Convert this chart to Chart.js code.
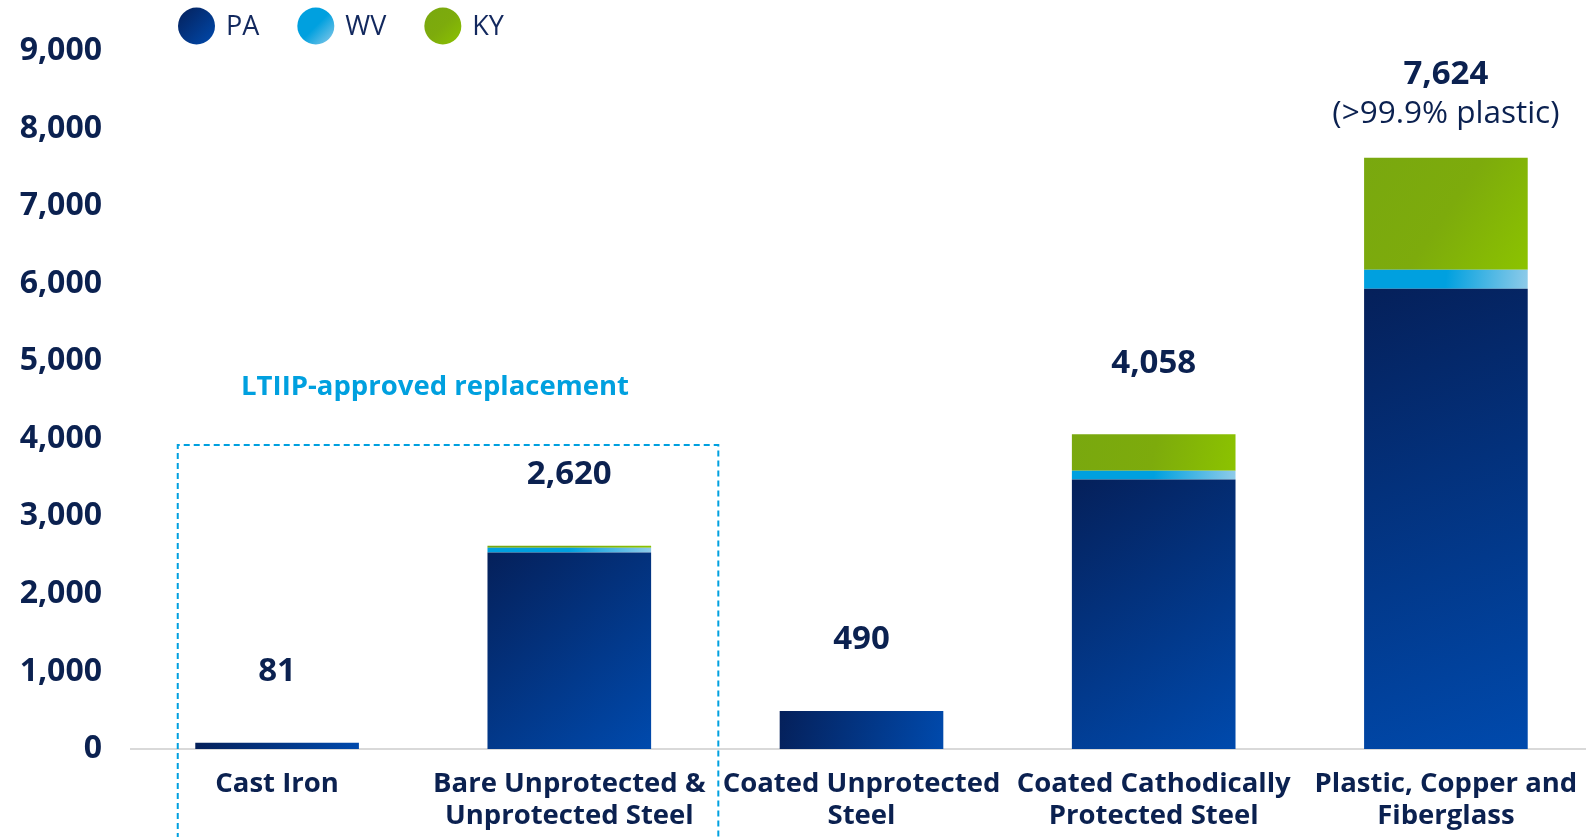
<!DOCTYPE html>
<html>
<head>
<meta charset="utf-8">
<script src="https://cdn.jsdelivr.net/npm/chart.js@4.4.0/dist/chart.umd.min.js"></script>
<style>
  body { margin: 0; background: #fff; }
  .wrap { position: relative; width: 1586px; height: 837px; overflow: hidden; }
  .wrap canvas { display: block; }
</style>
</head>
<body>
<div class="wrap"><canvas id="chart" width="1592" height="837"></canvas></div>
<script>
var categories = [
  ["Cast Iron"],
  ["Bare Unprotected &", "Unprotected Steel"],
  ["Coated Unprotected", "Steel"],
  ["Coated Cathodically", "Protected Steel"],
  ["Plastic, Copper and", "Fiberglass"]
];
var states = ["PA", "WV", "KY"];
var paMiles = [81, 2535, 490, 3475, 5935];
var wvMiles = [0, 60, 0, 112, 245];
var kyMiles = [0, 25, 0, 471, 1444];
var totalNotes = ["", "", "", "", "(>99.9% plastic)"];
var yTicks = [0, 1000, 2000, 3000, 4000, 5000, 6000, 7000, 8000, 9000];
var ltiipLabel = "LTIIP-approved replacement";
var ltiipCategories = [0, 1];
var ltiipTop = 3920;

var navy = "#0b2150";
var font = "'Open Sans', sans-serif";
var barShare = 0.56;

var paStops = [[0, "#05205a"], [1, "#004aad"]];
var wvStops = [[0, "#00a0df"], [0.5, "#00a0df"], [1, "#8fcbe9"]];
var kyStops = [[0, "#79a80f"], [0.5, "#7dab0c"], [1, "#8cc300"]];

function fillFor(stops) {
  return function (ctx) {
    var chart = ctx.chart;
    if (!chart.chartArea || ctx.type !== "data") return stops[0][1];
    var x = chart.scales.x, y = chart.scales.y;
    var half = (x.width / categories.length) * barShare / 2;
    var cx = x.getPixelForValue(ctx.dataIndex);
    var below = 0;
    for (var d = 0; d < ctx.datasetIndex; d++) below += chart.data.datasets[d].data[ctx.dataIndex];
    var top = y.getPixelForValue(below + ctx.raw);
    var bottom = y.getPixelForValue(below);
    var g = chart.ctx.createLinearGradient(cx - half, top, cx + half, bottom);
    stops.forEach(function (s) { g.addColorStop(s[0], s[1]); });
    return g;
  };
}

function totalFor(i) {
  return paMiles[i] + wvMiles[i] + kyMiles[i];
}

// legend, totals above bars and the dashed LTIIP box
var extras = {
  id: "extras",
  afterDraw: function (chart) {
    var c = chart.ctx, x = chart.scales.x, y = chart.scales.y;

    // legend
    var lx = 178, ly = 26, r = 18.5;
    var legendStops = [paStops, wvStops, kyStops];
    c.save();
    c.font = "400 27px " + font;
    c.textBaseline = "middle";
    states.forEach(function (s, i) {
      var g = c.createLinearGradient(lx, ly - r, lx + 2 * r, ly + r);
      legendStops[i].forEach(function (st) { g.addColorStop(st[0], st[1]); });
      c.fillStyle = g;
      c.beginPath();
      c.arc(lx + r, ly, r, 0, Math.PI * 2);
      c.fill();
      c.fillStyle = "#12285e";
      c.textAlign = "left";
      c.fillText(s, lx + 2 * r + 11, ly + 1);
      lx += 2 * r + 11 + c.measureText(s).width + 38;
    });

    // totals
    c.textAlign = "center";
    c.fillStyle = navy;
    categories.forEach(function (cat, i) {
      var cx = x.getPixelForValue(i);
      var top = y.getPixelForValue(totalFor(i));
      c.font = "700 33px " + font;
      c.fillText(totalFor(i).toLocaleString("en-US"), cx, totalNotes[i] ? top - 83 : top - 71);
      if (totalNotes[i]) {
        c.font = "400 31.5px " + font;
        c.fillText(totalNotes[i], cx, top - 44);
      }
    });

    // dashed box
    var step = x.getPixelForValue(1) - x.getPixelForValue(0);
    var left = x.getPixelForValue(ltiipCategories[0]) - step * 0.34;
    var right = x.getPixelForValue(ltiipCategories[1]) + step * 0.51;
    var boxTop = y.getPixelForValue(ltiipTop);
    c.strokeStyle = "#00a0df";
    c.lineWidth = 2;
    c.setLineDash([6, 4]);
    c.beginPath();
    c.moveTo(left, chart.height + 2);
    c.lineTo(left, boxTop);
    c.lineTo(right, boxTop);
    c.lineTo(right, chart.height + 2);
    c.stroke();
    c.setLineDash([]);
    c.fillStyle = "#00a0df";
    c.font = "700 27.5px " + font;
    c.fillText(ltiipLabel, (left + right) / 2 - 13, boxTop - 58);
    c.restore();
  }
};

new Chart("chart", {
  type: "bar",
  data: {
    labels: categories,
    datasets: [
      { label: states[0], data: paMiles, backgroundColor: fillFor(paStops) },
      { label: states[1], data: wvMiles, backgroundColor: fillFor(wvStops) },
      { label: states[2], data: kyMiles, backgroundColor: fillFor(kyStops) }
    ]
  },
  options: {
    responsive: false,
    animation: false,
    events: [],
    layout: { padding: { top: 51, left: 0, right: 0, bottom: 0 } },
    datasets: { bar: { categoryPercentage: 1, barPercentage: barShare, borderWidth: 0 } },
    plugins: { legend: { display: false }, tooltip: { enabled: false } },
    scales: {
      x: {
        stacked: true,
        grid: { display: false },
        border: { display: true, color: "#d9d9d9", width: 2 },
        ticks: {
          color: navy,
          font: { family: font, size: 27.5, weight: "700", lineHeight: "32px" },
          padding: 11,
          maxRotation: 0,
          autoSkip: false
        },
        afterFit: function (s) { s.height = 88; }
      },
      y: {
        stacked: true,
        min: yTicks[0],
        max: yTicks[yTicks.length - 1],
        afterBuildTicks: function (s) { s.ticks = yTicks.map(function (v) { return { value: v }; }); },
        grid: { display: false, drawTicks: false },
        border: { display: false },
        ticks: {
          color: navy,
          padding: 29,
          font: { family: font, size: 32, weight: "700" },
          callback: function (v) { return v.toLocaleString("en-US"); }
        },
        afterFit: function (s) { s.width = 131; }
      }
    }
  },
  plugins: [extras]
});
</script>
</body>
</html>
